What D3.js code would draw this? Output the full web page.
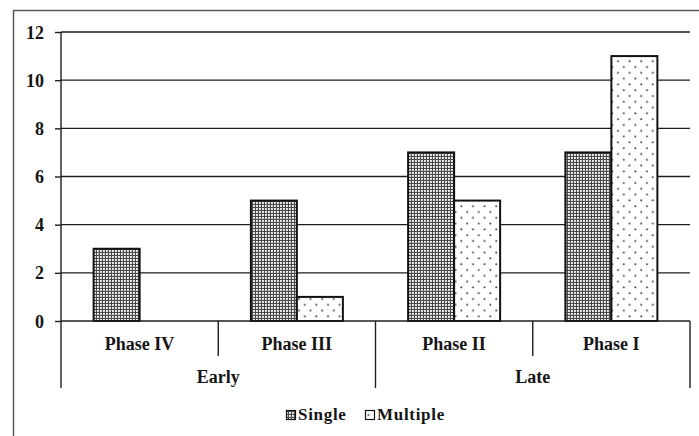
<!DOCTYPE html>
<html>
<head>
<meta charset="utf-8">
<script src="https://cdn.jsdelivr.net/npm/d3@7"></script>
<style>
  html, body { margin: 0; padding: 0; background: #fff; }
  svg { display: block; }
</style>
</head>
<body>
<svg id="chart" width="699" height="436"></svg>
<script>
const categories = ["Phase IV", "Phase III", "Phase II", "Phase I"];
const groups = [
  { name: "Early", members: ["Phase IV", "Phase III"] },
  { name: "Late", members: ["Phase II", "Phase I"] }
];
const seriesNames = ["Single", "Multiple"];
const singleValues = [3, 5, 7, 7];
const multipleValues = [0, 1, 5, 11];
const yTicks = [0, 2, 4, 6, 8, 10, 12];

const FONT = "'Liberation Serif', 'Times New Roman', serif";
const svg = d3.select("#chart");
const W = 699, H = 436;
const plot = { left: 61, right: 690, top: 32, bottom: 321 };

function styleText(sel, size) {
  return sel.style("font-family", FONT).style("font-weight", "bold")
    .style("font-size", size + "px").style("fill", "#151515");
}

// Patterns
const defs = svg.append("defs");
const pSingle = defs.append("pattern").attr("id", "pSingle")
  .attr("patternUnits", "userSpaceOnUse").attr("width", 3).attr("height", 3);
pSingle.append("rect").attr("width", 3).attr("height", 3).attr("fill", "#4a4a4a");
pSingle.append("rect").attr("x", 1).attr("y", 1).attr("width", 1.9).attr("height", 1.9).attr("fill", "#f4f4f4");

const pMulti = defs.append("pattern").attr("id", "pMultiple")
  .attr("patternUnits", "userSpaceOnUse").attr("width", 11.6).attr("height", 11.6);
pMulti.append("rect").attr("width", 11.6).attr("height", 11.6).attr("fill", "#fff");
pMulti.append("rect").attr("x", 2.4).attr("y", 2.4).attr("width", 1.6).attr("height", 1.6).attr("fill", "#222");
pMulti.append("rect").attr("x", 8.2).attr("y", 8.2).attr("width", 1.6).attr("height", 1.6).attr("fill", "#222");

const fills = { Single: "url(#pSingle)", Multiple: "url(#pMultiple)" };

// Outer frame
svg.append("path")
  .attr("d", `M13.5,${H + 2} V10.5 H${W + 2}`)
  .attr("fill", "none").attr("stroke", "#5a5a5a").attr("stroke-width", 1.5);

// Scales
const y = d3.scaleLinear().domain([0, 12]).range([plot.bottom, plot.top]);
const x0 = d3.scaleBand().domain(categories).range([plot.left, plot.right]).padding(0);
const barW = 46;
const outerP = (x0.bandwidth() / barW - 2) / 2;
const x1 = d3.scaleBand().domain(seriesNames).range([0, x0.bandwidth()])
  .paddingInner(0).paddingOuter(outerP);

// Gridlines
svg.append("g").selectAll("line").data(yTicks.filter(d => d > 0)).join("line")
  .attr("x1", plot.left).attr("x2", plot.right)
  .attr("y1", d => y(d)).attr("y2", d => y(d))
  .attr("stroke", "#1e1e1e").attr("stroke-width", 1.4);

// Y axis
const yAxis = d3.axisLeft(y).tickValues(yTicks).tickSize(6).tickPadding(11).tickFormat(d3.format("d"));
const gy = svg.append("g").attr("transform", `translate(${plot.left},0)`).call(yAxis);
gy.attr("font-family", null).attr("font-size", null);
gy.select(".domain").remove();
gy.selectAll(".tick line").attr("stroke", "#1e1e1e").attr("stroke-width", 1.4);
styleText(gy.selectAll(".tick text"), 18).attr("fill", null).attr("dy", "0.34em");

// Bars
const data = categories.map((c, i) => ({ cat: c, Single: singleValues[i], Multiple: multipleValues[i] }));
const gBars = svg.append("g");
data.forEach(d => {
  seriesNames.forEach(s => {
    if (d[s] <= 0) return;
    gBars.append("rect")
      .attr("x", x0(d.cat) + x1(s))
      .attr("y", y(d[s]))
      .attr("width", x1.bandwidth())
      .attr("height", y(0) - y(d[s]))
      .attr("fill", fills[s])
      .attr("stroke", "#111").attr("stroke-width", 2);
  });
});

// Baseline and y-axis line
svg.append("line").attr("x1", plot.left).attr("x2", plot.right)
  .attr("y1", y(0)).attr("y2", y(0)).attr("stroke", "#1e1e1e").attr("stroke-width", 1.4);
const groupBottom = 388;
svg.append("line").attr("x1", plot.left).attr("x2", plot.left)
  .attr("y1", plot.top).attr("y2", groupBottom).attr("stroke", "#1e1e1e").attr("stroke-width", 1.4);

// Category separators
const inner = categories.slice(1).map(c => x0(c));
const groupEdges = groups.map(g => x0(g.members[g.members.length - 1]) + x0.bandwidth());
svg.append("g").selectAll("line").data(inner).join("line")
  .attr("x1", d => d).attr("x2", d => d)
  .attr("y1", y(0)).attr("y2", d => groupEdges.some(e => Math.abs(e - d) < 1) ? groupBottom : 356)
  .attr("stroke", "#1e1e1e").attr("stroke-width", 1.4);
svg.append("line").attr("x1", plot.right).attr("x2", plot.right)
  .attr("y1", y(0)).attr("y2", groupBottom).attr("stroke", "#1e1e1e").attr("stroke-width", 1.4);

// Category labels
styleText(svg.append("g").selectAll("text").data(categories).join("text")
  .attr("x", d => x0(d) + x0.bandwidth() / 2).attr("y", 350)
  .attr("text-anchor", "middle"), 18)
  .text(d => d);

// Group labels
styleText(svg.append("g").selectAll("text").data(groups).join("text")
  .attr("x", g => (x0(g.members[0]) + x0(g.members[g.members.length - 1]) + x0.bandwidth()) / 2)
  .attr("y", 383).attr("text-anchor", "middle"), 18)
  .text(g => g.name);

// Legend
const legendItems = [
  { name: "Single", x: 286 },
  { name: "Multiple", x: 365 }
];
const lg = svg.append("g");
legendItems.forEach(it => {
  lg.append("rect").attr("x", it.x + 0.5).attr("y", 410.5).attr("width", 9).attr("height", 9)
    .attr("fill", fills[it.name]).attr("stroke", "#111").attr("stroke-width", 1.2);
  styleText(lg.append("text").attr("x", it.x + 12).attr("y", 420), 17)
    .style("letter-spacing", "0.7px").text(it.name);
});
</script>
</body>
</html>
